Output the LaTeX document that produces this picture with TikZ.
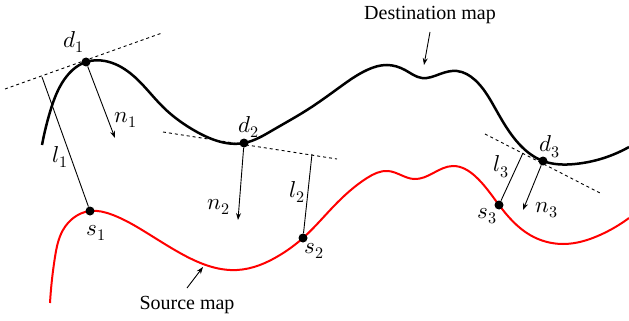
\documentclass[tikz,border=0pt]{standalone}
\usepackage{fontspec}
\setmainfont{Liberation Serif}
\usepackage{unicode-math}
\usetikzlibrary{arrows.meta,hobby}

\begin{document}
\begin{tikzpicture}[x=1pt,y=-1pt, >={Stealth[length=7pt,width=5pt]},
  dot/.style={circle,fill,inner sep=0pt,minimum size=9pt},
  tanline/.style={dashed,line width=0.9pt},
  gap/.style={line width=0.9pt},
  nrm/.style={->,line width=0.9pt},
  lbl/.style={inner sep=1pt,font=\fontsize{23}{27}\selectfont},
  maplbl/.style={inner sep=1pt,font=\fontsize{20}{24}\selectfont}]
  \useasboundingbox (0,0) rectangle (629,321);
  % destination map
  \draw[line width=2.5pt,use Hobby shortcut] (42,145) .. (50,112) .. (62,83) .. (86,62)
    .. (105,61) .. (130,73) .. (163,107) .. (197,132) .. (244,143) .. (273,130) .. (307,110)
    .. (340,87) .. (367,70) .. (387,65) .. (405,70) .. (422,78) .. (440,74) .. (457,71)
    .. (475,80) .. (495,108) .. (520,145) .. (543,161) .. (575,164) .. (629,147);
  % source map
  \draw[red,line width=2pt,use Hobby shortcut] (50,303) .. (55,257) .. (63,230) .. (90,211)
    .. (113,215) .. (147,233) .. (180,253) .. (237,270) .. (280,255) .. (303,238) .. (333,207)
    .. (367,178) .. (388,171) .. (414,179) .. (453,166) .. (475,176) .. (499,205) .. (530,235)
    .. (563,244) .. (600,235) .. (629,218);
  % points
  \node[dot] (d1) at (86,62) {};
  \node[dot] (d2) at (244,143) {};
  \node[dot] (d3) at (543,161) {};
  \node[dot] (s1) at (90,211) {};
  \node[dot] (s2) at (303,238) {};
  \node[dot] (s3) at (499,205) {};
  % tangent planes
  \coordinate (t1a) at (5,89); \coordinate (t1b) at (162,33);
  \coordinate (t2a) at (163,132); \coordinate (t2b) at (337,159);
  \coordinate (t3a) at (485,134); \coordinate (t3b) at (600,193);
  \draw[tanline] (t1a) -- (t1b);
  \draw[tanline] (t2a) -- (t2b);
  \draw[tanline] (t3a) -- (t3b);
  % distances
  \coordinate (f1) at (42,77); \coordinate (f2) at (312,154); \coordinate (f3) at (523,153);
  \draw[gap] (f1) -- (s1);
  \draw[gap] (f2) -- (s2);
  \draw[gap] (f3) -- (s3);
  % normals
  \coordinate (m1) at (115,138); \coordinate (m2) at (238,220); \coordinate (m3) at (523,210);
  \draw[nrm] (d1) -- (m1);
  \draw[nrm] (d2) -- (m2);
  \draw[nrm] (d3) -- (m3);
  % labels
  \node[lbl] (ld1) at (74,42) {$d_1$};
  \node[lbl] (ld2) at (249,127) {$d_2$};
  \node[lbl] (ld3) at (550,147) {$d_3$};
  \node[lbl] (ls1) at (96,233) {$s_1$};
  \node[lbl] (ls2) at (314,251) {$s_2$};
  \node[lbl] (ls3) at (487,216) {$s_3$};
  \node[lbl] (ll1) at (60,157) {$l_1$};
  \node[lbl] (ll2) at (297,192) {$l_2$};
  \node[lbl] (ll3) at (501,167) {$l_3$};
  \node[lbl] (ln1) at (126,120) {$n_1$};
  \node[lbl] (ln2) at (219,207) {$n_2$};
  \node[lbl] (ln3) at (547,210) {$n_3$};
  % captions
  \node[maplbl] (dst) at (430,15) {Destination map};
  \node[maplbl] (src) at (187,305) {Source map};
  \coordinate (pd) at (424,65); \coordinate (ps) at (203,267);
  \coordinate (qd) at (430,32); \coordinate (qs) at (187,288);
  \draw[nrm] (qd) -- (pd);
  \draw[nrm] (qs) -- (ps);
\end{tikzpicture}
\end{document}
